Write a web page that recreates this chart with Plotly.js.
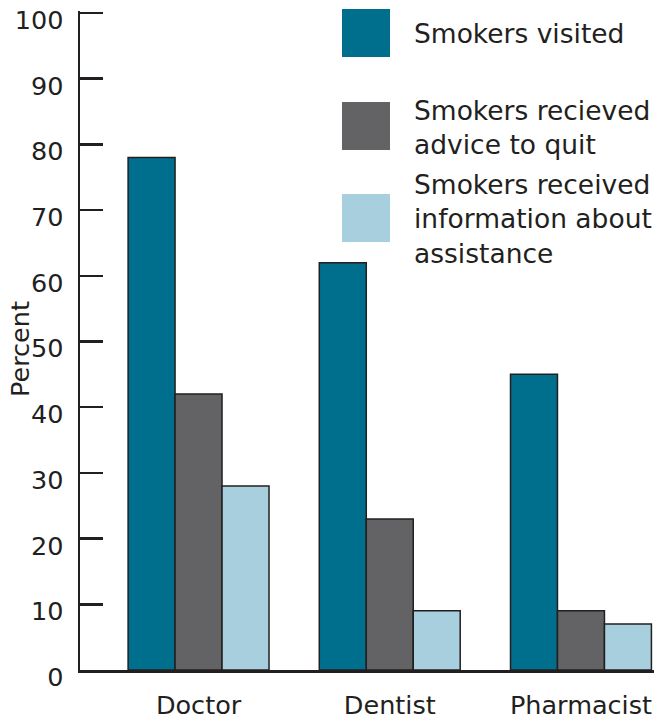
<!DOCTYPE html>
<html>
<head>
<meta charset="utf-8">
<script src="https://cdn.plot.ly/plotly-3.0.1.min.js"></script>
<style>
  html, body { margin: 0; padding: 0; background: #ffffff; }
  #chart { width: 669px; height: 719px; }
</style>
</head>
<body>
<div id="chart"></div>
<script>
// Where smokers were seen and what they were offered (percent)
const providers = ["Doctor", "Dentist", "Pharmacist"];
const seriesNames = [
  "Smokers visited",
  "Smokers recieved<br>advice to quit",
  "Smokers received<br>information about<br>assistance"
];
const visited = [78, 62, 45];
const adviceToQuit = [42, 23, 9];
const infoAssistance = [28, 9, 7];
const yTicks = [0, 10, 20, 30, 40, 50, 60, 70, 80, 90, 100];

const colors = ["#006f8e", "#636366", "#a8cfdd"];
const ink = "#231f20";
const fontFamily = "DejaVu Sans, Verdana, sans-serif";

// plot box in pixels; the value axis reaches a hair past 100 so its tick is kept
const W = 669, H = 719;
const plotLeft = 80, plotRight = 654, plotTop = 11, plotBottom = 670;
const top100 = 13;  // pixel row of the 100 tick
const yMax = 100 * (plotBottom - plotTop) / (plotBottom - top100);
const px = x => (x - plotLeft) / (plotRight - plotLeft);
const py = y => (plotBottom - y) / (plotBottom - plotTop);

const values = [visited, adviceToQuit, infoAssistance];
const traces = values.map((v, i) => ({
  type: "bar",
  name: seriesNames[i].replace(/<br>/g, " "),
  x: providers,
  y: v,
  marker: { color: colors[i], line: { color: ink, width: 1.5 } },
  hoverinfo: "x+y"
}));

// legend: big swatches with wrapped labels beside them
const swatchCenters = [33, 126, 218];
const shapes = [];
const annotations = [];
swatchCenters.forEach((cy, i) => {
  shapes.push({
    type: "rect", xref: "paper", yref: "paper",
    x0: px(342), x1: px(390), y0: py(cy + 24), y1: py(cy - 24),
    fillcolor: colors[i], line: { width: 0 }
  });
  annotations.push({
    xref: "paper", yref: "paper",
    x: px(412), y: py(cy + 1), xanchor: "left", yanchor: "middle",
    align: "left", showarrow: false, text: seriesNames[i],
    font: { family: fontFamily, size: 26.5, color: ink }
  });
});

// y-axis title
annotations.push({
  xref: "paper", yref: "paper",
  x: px(20), y: py(349), xanchor: "center", yanchor: "middle",
  textangle: -90, showarrow: false, text: "Percent",
  font: { family: fontFamily, size: 25.5, color: ink }
});

const layout = {
  width: W, height: H,
  margin: { l: plotLeft, r: W - plotRight, t: plotTop, b: H - plotBottom, pad: 0 },
  paper_bgcolor: "#ffffff",
  plot_bgcolor: "#ffffff",
  barmode: "group",
  bargap: 0.263,
  bargroupgap: 0,
  showlegend: false,
  font: { family: fontFamily, size: 25, color: ink },
  xaxis: {
    type: "category",
    range: [-0.62, 2.382],
    showline: true, linecolor: ink, linewidth: 2.5,
    showgrid: false, zeroline: false,
    ticks: "",
    ticklabelstandoff: 11,
    tickfont: { family: fontFamily, size: 25.5, color: ink }
  },
  yaxis: {
    range: [0, yMax],
    tickmode: "linear",
    tick0: yTicks[0],
    dtick: yTicks[1] - yTicks[0],
    showline: true, linecolor: ink, linewidth: 2.5,
    showgrid: false, zeroline: false,
    ticks: "inside", ticklen: 23, tickwidth: 2.5, tickcolor: ink,
    ticklabelstandoff: 9,
    ticklabelshift: 7,
    tickfont: { family: fontFamily, size: 25.5, color: ink }
  },
  shapes: shapes,
  annotations: annotations
};

Plotly.newPlot("chart", traces, layout, { displayModeBar: false, staticPlot: true });
</script>
</body>
</html>
